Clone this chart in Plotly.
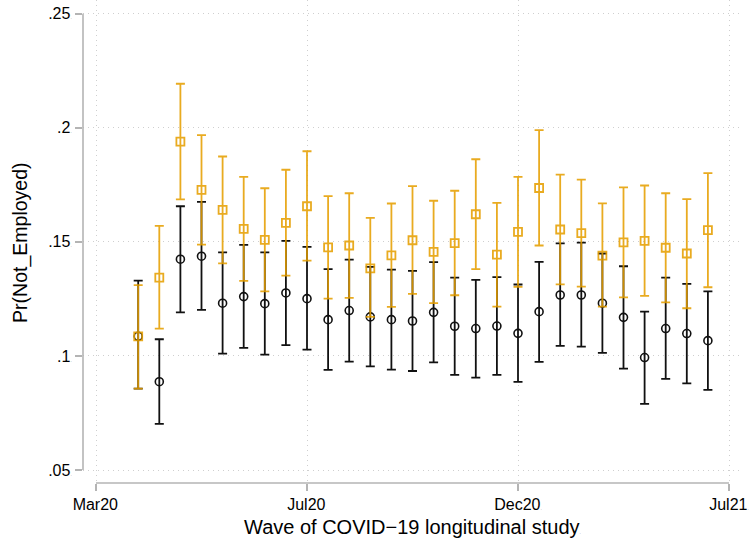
import plotly.graph_objects as go

# ---- data ----
waves = list(range(2, 30))
tick_vals = [0, 10, 20, 30]
tick_labels = ["Mar20", "Jul20", "Dec20", "Jul21"]
y_ticks = [0.05, 0.10, 0.15, 0.20, 0.25]
y_tick_labels = [".05", ".1", ".15", ".2", ".25"]

black_est = [0.1086, 0.0887, 0.1424, 0.1437, 0.1231, 0.1260, 0.1229, 0.1276, 0.1251, 0.1159,
             0.1199, 0.1171, 0.1159, 0.1153, 0.1191, 0.1130, 0.1120, 0.1131, 0.1099, 0.1194,
             0.1267, 0.1267, 0.1231, 0.1169, 0.0993, 0.1120, 0.1098, 0.1067]
black_lo = [0.0857, 0.0702, 0.1191, 0.1202, 0.1010, 0.1035, 0.1006, 0.1047, 0.1028, 0.0939,
            0.0975, 0.0954, 0.0940, 0.0934, 0.0972, 0.0917, 0.0905, 0.0917, 0.0886, 0.0974,
            0.1044, 0.1041, 0.1013, 0.0944, 0.0790, 0.0899, 0.0880, 0.0851]
black_hi = [0.1330, 0.1073, 0.1656, 0.1675, 0.1454, 0.1487, 0.1454, 0.1504, 0.1478, 0.1380,
            0.1422, 0.1390, 0.1378, 0.1373, 0.1411, 0.1343, 0.1333, 0.1345, 0.1313, 0.1412,
            0.1493, 0.1497, 0.1449, 0.1393, 0.1194, 0.1343, 0.1316, 0.1283]

orange_est = [0.1086, 0.1343, 0.1939, 0.1728, 0.1640, 0.1557, 0.1509, 0.1583, 0.1656, 0.1476,
              0.1484, 0.1384, 0.1441, 0.1507, 0.1456, 0.1494, 0.1621, 0.1444, 0.1544, 0.1736,
              0.1554, 0.1538, 0.1440, 0.1498, 0.1504, 0.1474, 0.1449, 0.1551]
orange_lo = [0.0857, 0.1120, 0.1686, 0.1488, 0.1406, 0.1329, 0.1283, 0.1352, 0.1418, 0.1251,
             0.1254, 0.1171, 0.1215, 0.1272, 0.1231, 0.1266, 0.1380, 0.1216, 0.1303, 0.1484,
             0.1314, 0.1304, 0.1216, 0.1257, 0.1263, 0.1235, 0.1209, 0.1301]
orange_hi = [0.1310, 0.1570, 0.2193, 0.1968, 0.1874, 0.1785, 0.1735, 0.1816, 0.1897, 0.1700,
             0.1713, 0.1605, 0.1668, 0.1744, 0.1680, 0.1724, 0.1862, 0.1671, 0.1785, 0.1990,
             0.1795, 0.1773, 0.1669, 0.1739, 0.1747, 0.1713, 0.1687, 0.1801]

BLACK = "#111111"
ORANGE = "#E69F00"
AXIS = "#b4b4b4"
GRID = "#cfcfcf"
FONT = "Liberation Sans, Arial, Helvetica, sans-serif"
DOT = "<span style='font-size:5px;color:#999'>.</span>"


def err(est, lo, hi):
    return [h - e for e, h in zip(est, hi)], [e - l for e, l in zip(est, lo)]


fig = go.Figure()

bp, bm = err(black_est, black_lo, black_hi)
fig.add_trace(go.Scatter(
    x=waves, y=black_est, mode="markers",
    marker=dict(symbol="circle-open", size=8, color=BLACK, line=dict(width=1.6, color=BLACK)),
    error_y=dict(type="data", symmetric=False, array=bp, arrayminus=bm,
                 color=BLACK, thickness=1.8, width=4.5),
    showlegend=False, cliponaxis=False,
))

op, om = err(orange_est, orange_lo, orange_hi)
fig.add_trace(go.Scatter(
    x=waves, y=orange_est, mode="markers", opacity=0.87,
    marker=dict(symbol="square-open", size=8, color=ORANGE, line=dict(width=1.8, color=ORANGE)),
    error_y=dict(type="data", symmetric=False, array=op, arrayminus=om,
                 color=ORANGE, thickness=1.8, width=4.5),
    showlegend=False, cliponaxis=False,
))

# axis lines (Stata-style, offset from plot region)
fig.add_shape(type="line", xref="paper", yref="y", x0=0, x1=0, y0=y_ticks[0], y1=y_ticks[-1],
              line=dict(color=AXIS, width=1.6))
fig.add_shape(type="line", xref="x", yref="paper", x0=tick_vals[0], x1=tick_vals[-1], y0=0, y1=0,
              line=dict(color=AXIS, width=1.6))

fig.add_annotation(text="Pr(Not_Employed)" + DOT, textangle=-90, xref="paper", yref="y",
                   x=-0.094, y=0.15, xanchor="center", yanchor="middle", showarrow=False,
                   font=dict(family=FONT, size=19.5, color="#000"))
fig.add_annotation(text="Wave of COVID\u221219 longitudinal study" + DOT, xref="x", yref="paper",
                   x=15, y=-0.091, xanchor="center", yanchor="middle", showarrow=False,
                   font=dict(family=FONT, size=20, color="#000"))

fig.update_layout(
    width=751, height=545,
    margin=dict(l=83, r=9, t=0, b=62, pad=0),
    paper_bgcolor="white", plot_bgcolor="white",
    font=dict(family=FONT, size=16, color="#000"),
    xaxis=dict(range=[-0.616, 30.616], tickmode="array", tickvals=tick_vals,
               ticktext=[t + DOT for t in tick_labels],
               showgrid=True, gridcolor=GRID, griddash="1px,4px", gridwidth=1,
               zeroline=False, showline=False, ticks="outside", ticklen=7,
               tickcolor=AXIS, tickwidth=1.6, tickfont=dict(size=16)),
    yaxis=dict(range=[0.0443, 0.256], tickmode="array", tickvals=y_ticks,
               ticktext=[t + DOT for t in y_tick_labels],
               showgrid=True, gridcolor=GRID, griddash="1px,4px", gridwidth=1,
               zeroline=False, showline=False, ticks="outside", ticklen=7,
               tickcolor=AXIS, tickwidth=1.6, tickfont=dict(size=16)),
)

fig.write_html("out.html")
